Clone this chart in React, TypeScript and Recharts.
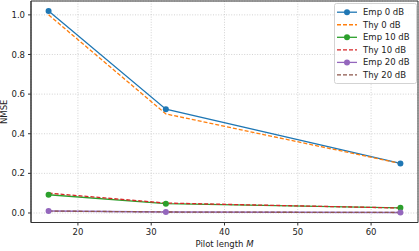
import React from 'react';
import { LineChart, Line, XAxis, YAxis, CartesianGrid, Legend, Label, ReferenceArea } from 'recharts';

const pilotLengths = [16, 32, 64];
const emp0 = [1.02, 0.524, 0.25];
const thy0 = [1.0, 0.5, 0.25];
const emp10 = [0.092, 0.047, 0.026];
const thy10 = [0.1, 0.05, 0.025];
const emp20 = [0.01, 0.005, 0.0025];
const thy20 = [0.01, 0.005, 0.0025];
const xTicks = [20, 30, 40, 50, 60];
const yTicks = [0, 0.2, 0.4, 0.6, 0.8, 1.0];

const seriesNames = ['Emp 0 dB', 'Thy 0 dB', 'Emp 10 dB', 'Thy 10 dB', 'Emp 20 dB', 'Thy 20 dB'];
const seriesValues = [emp0, thy0, emp10, thy10, emp20, thy20];
const seriesColors = ['#1f77b4', '#ff7f0e', '#2ca02c', '#d62728', '#9467bd', '#8c564b'];
const seriesIsEmp = [true, false, true, false, true, false];

const X_DOMAIN: [number, number] = [13.6, 66.4];
const Y_DOMAIN: [number, number] = [-0.048, 1.07];

const data = pilotLengths.map((m, i) => {
  const row: Record<string, number> = { m };
  seriesNames.forEach((n, k) => {
    row[n] = seriesValues[k][i];
  });
  return row;
});

const FONT = '"DejaVu Sans", sans-serif';
const FS = 8.5;

const LegendBox = () => (
  <svg width={83} height={81} style={{ display: 'block' }}>
    <rect x={0.5} y={0.5} width={82} height={80} rx={2} ry={2} fill="#ffffff" fillOpacity={0.8} stroke="#d3d3d3" strokeWidth={1} />
    {seriesNames.map((n, k) => {
      const y = 9.2 + k * 12.55;
      return (
        <g key={n}>
          <line x1={3} x2={23} y1={y} y2={y} stroke={seriesColors[k]} strokeWidth={1.3}
            strokeDasharray={seriesIsEmp[k] ? undefined : '4 2'} />
          {seriesIsEmp[k] && <circle cx={13} cy={y} r={3} fill={seriesColors[k]} />}
          <text x={29} y={y} dy="0.35em" fontFamily={FONT} fontSize={FS} fill="#222">{n}</text>
        </g>
      );
    })}
  </svg>
);

const XLabel = (props: any) => {
  const vb = props.viewBox || {};
  const cx = vb.x + vb.width / 2;
  return (
    <text x={cx} y={244} dy="0.35em" textAnchor="middle" fontFamily={FONT} fontSize={FS} fill="#222">
      <tspan>Pilot length </tspan>
      <tspan fontStyle="italic">M</tspan>
    </text>
  );
};

const YLabel = (props: any) => {
  const vb = props.viewBox || {};
  const cy = vb.y + vb.height / 2;
  return (
    <text x={4.5} y={cy} dy="0.35em" textAnchor="middle" transform={`rotate(-90 4.5 ${cy})`}
      fontFamily={FONT} fontSize={FS} fill="#222">NMSE</text>
  );
};

const tickStyle = { fontFamily: FONT, fontSize: FS, fill: '#222' };

export default function App() {
  return (
    <div style={{ position: 'absolute', left: 0, top: 0 }}>
      <LineChart width={419} height={251} data={data} margin={{ top: 1, right: 1, bottom: 0, left: 0 }}>
        <CartesianGrid stroke="#c8c8c8" strokeWidth={0.8} strokeDasharray="1 1.6" />
        <XAxis dataKey="m" type="number" domain={X_DOMAIN} ticks={xTicks} allowDataOverflow
          height={28.5} tickSize={3} tickMargin={3} tick={tickStyle}
          tickLine={{ stroke: '#333' }} axisLine={{ stroke: '#333' }}>
          <Label content={<XLabel />} />
        </XAxis>
        <YAxis type="number" domain={Y_DOMAIN} ticks={yTicks} allowDataOverflow width={31}
          tickSize={3} tickMargin={3} tick={tickStyle} tickFormatter={(v: number) => v.toFixed(1)}
          tickLine={{ stroke: '#333' }} axisLine={{ stroke: '#333' }}>
          <Label content={<YLabel />} />
        </YAxis>
        {seriesNames.map((n, k) => (
          <Line key={n} dataKey={n} name={n} type="linear" stroke={seriesColors[k]} strokeWidth={1.3}
            strokeDasharray={seriesIsEmp[k] ? undefined : '4 2'}
            dot={seriesIsEmp[k] ? { r: 3, fill: seriesColors[k], stroke: seriesColors[k], strokeWidth: 0 } : false}
            activeDot={false} isAnimationActive={false} />
        ))}
        <ReferenceArea x1={X_DOMAIN[0]} x2={X_DOMAIN[1]} y1={Y_DOMAIN[0]} y2={Y_DOMAIN[1]}
          fill="none" fillOpacity={0} stroke="#333" strokeWidth={1} ifOverflow="visible" />
        <Legend layout="vertical" align="center" verticalAlign="middle" content={() => <LegendBox />}
          wrapperStyle={{ position: 'absolute', left: 334, top: 3, width: 83, height: 81 }} />
      </LineChart>
    </div>
  );
}
